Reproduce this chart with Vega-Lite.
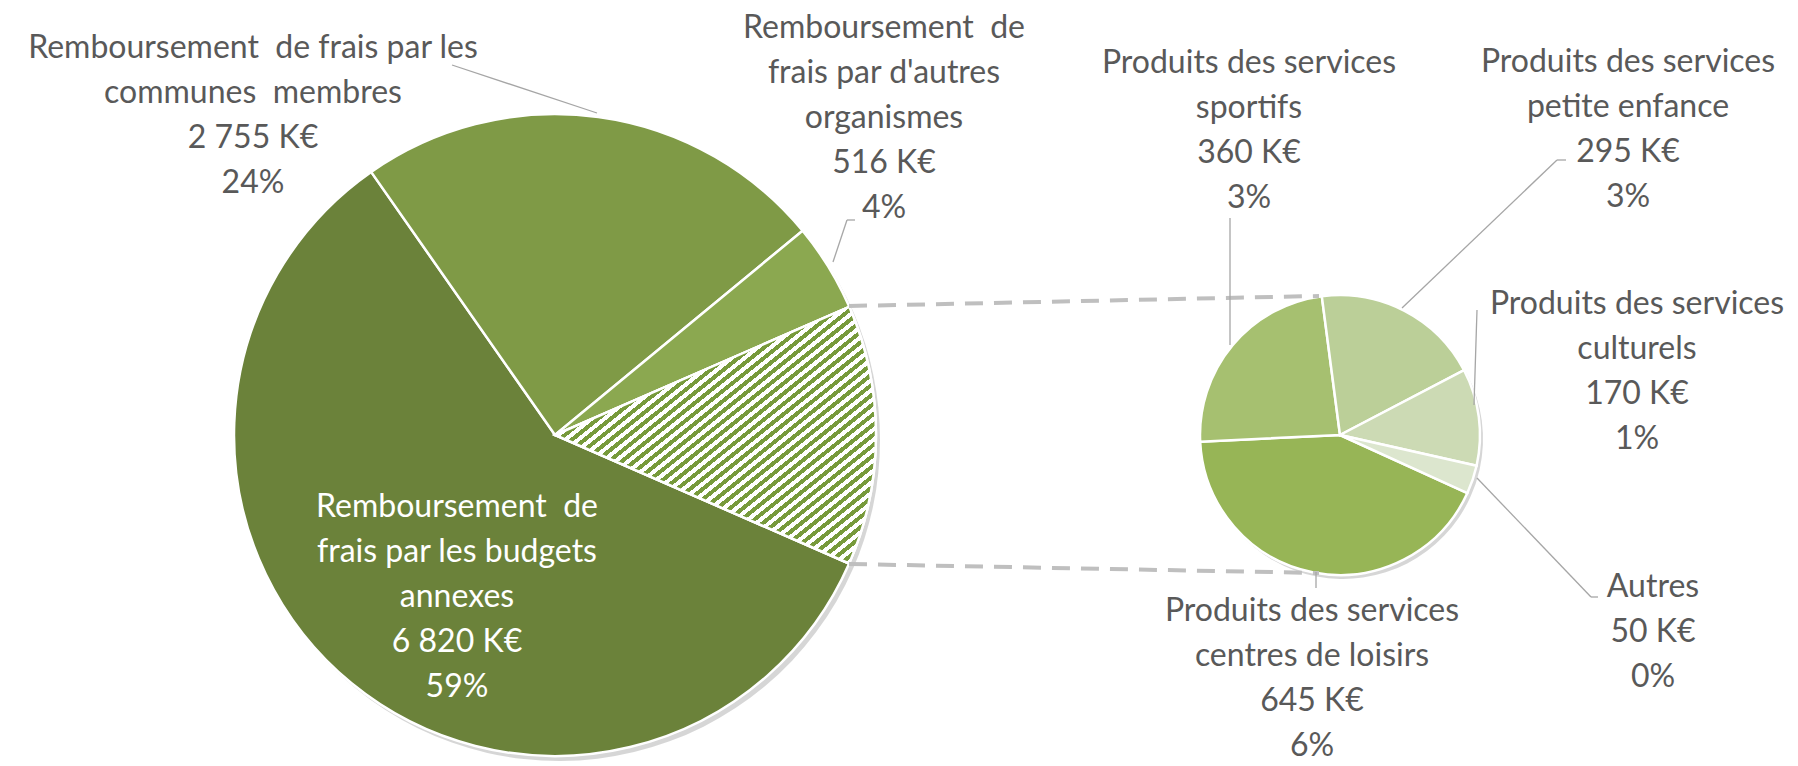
{
"$schema":"https://vega.github.io/schema/vega-lite/v6.json",
"width":1798,"height":766,"autosize":{"type":"none"},"padding":0,"background":"white",
"config":{"view":{"stroke":null},"text":{"font":"Lato","fontSize":32,"lineHeight":45,"align":"center","baseline":"middle","fill":"#595959","lineBreak":"\n"}},
"datasets":{"revenus":[
{"cat":"Remboursement de frais par les budgets annexes","libelle":"Remboursement\u00a0 de\nfrais par les budgets\nannexes","group":"principal","value":6820},
{"cat":"Remboursement de frais par les communes membres","libelle":"Remboursement\u00a0 de frais par les\ncommunes\u00a0 membres","group":"principal","value":2755},
{"cat":"Remboursement de frais par d'autres organismes","libelle":"Remboursement\u00a0 de\nfrais par d'autres\norganismes","group":"principal","value":516},
{"cat":"Produits des services centres de loisirs","libelle":"Produits des services\ncentres de loisirs","group":"detail","value":645},
{"cat":"Produits des services sportifs","libelle":"Produits des services\nsportifs","group":"detail","value":360},
{"cat":"Produits des services petite enfance","libelle":"Produits des services\npetite enfance","group":"detail","value":295},
{"cat":"Produits des services culturels","libelle":"Produits des services\nculturels","group":"detail","value":170},
{"cat":"Autres","libelle":"Autres","group":"detail","value":50}
]},
"data":{"name":"revenus"},
"transform":[
{"joinaggregate":[{"op":"sum","field":"value","as":"total"}]},
{"calculate":"datum.libelle + '\\n' + replace(format(datum.value, ','), ',', ' ') + ' K€\\n' + format(datum.value / datum.total, '.0%')","as":"etiquette"}
],
"layer":[
{"transform":[
 {"calculate":"datum.group === 'principal' ? datum.cat : 'Autres produits'","as":"tranche"},
 {"aggregate":[{"op":"sum","field":"value","as":"montant"}],"groupby":["tranche"]},
 {"calculate":"datum.tranche === 'Autres produits' ? 99999 : -datum.montant","as":"rang"}
],
"layer":[
 {"mark":{"type":"arc","outerRadius":321,"fill":"#000000","opacity":0.16,"xOffset":4,"yOffset":5},
  "encoding":{"x":{"datum":555,"type":"quantitative","scale":{"domain":[0,1798]},"axis":null},"y":{"datum":435,"type":"quantitative","scale":{"domain":[0,766],"reverse":true},"axis":null},
   "theta":{"field":"montant","type":"quantitative","stack":true,"scale":{"range":[1.9827,8.2659]}},"order":{"field":"rang","type":"quantitative"},"detail":{"field":"tranche"}}},
 {"mark":{"type":"arc","outerRadius":321,"stroke":"#ffffff","strokeWidth":2.5},
  "encoding":{"x":{"datum":555,"type":"quantitative","scale":{"domain":[0,1798]},"axis":null},"y":{"datum":435,"type":"quantitative","scale":{"domain":[0,766],"reverse":true},"axis":null},
   "theta":{"field":"montant","type":"quantitative","stack":true,"scale":{"range":[1.9827,8.2659]}},"order":{"field":"rang","type":"quantitative"},
   "color":{"field":"tranche","type":"nominal","legend":null,"scale":{"domain":["Remboursement de frais par les budgets annexes","Remboursement de frais par les communes membres","Remboursement de frais par d'autres organismes","Autres produits"],"range":["#6b823a","#7f9a46","#8ba850","#ffffff"]}}}},
 {"mark":{"type":"arc","outerRadius":321,"stroke":"#ffffff","strokeWidth":2.5,"fill":{"gradient":"linear","x1":0,"y1":0,"x2":1,"y2":1,"stops":[
{"offset":0,"color":"#779a3b"},
{"offset":0.01,"color":"#779a3b"},{"offset":0.01,"color":"#fff"},{"offset":0.02,"color":"#fff"},{"offset":0.02,"color":"#779a3b"},
{"offset":0.03,"color":"#779a3b"},{"offset":0.03,"color":"#fff"},{"offset":0.04,"color":"#fff"},{"offset":0.04,"color":"#779a3b"},
{"offset":0.05,"color":"#779a3b"},{"offset":0.05,"color":"#fff"},{"offset":0.06,"color":"#fff"},{"offset":0.06,"color":"#779a3b"},
{"offset":0.07,"color":"#779a3b"},{"offset":0.07,"color":"#fff"},{"offset":0.08,"color":"#fff"},{"offset":0.08,"color":"#779a3b"},
{"offset":0.09,"color":"#779a3b"},{"offset":0.09,"color":"#fff"},{"offset":0.1,"color":"#fff"},{"offset":0.1,"color":"#779a3b"},
{"offset":0.11,"color":"#779a3b"},{"offset":0.11,"color":"#fff"},{"offset":0.12,"color":"#fff"},{"offset":0.12,"color":"#779a3b"},
{"offset":0.13,"color":"#779a3b"},{"offset":0.13,"color":"#fff"},{"offset":0.14,"color":"#fff"},{"offset":0.14,"color":"#779a3b"},
{"offset":0.15,"color":"#779a3b"},{"offset":0.15,"color":"#fff"},{"offset":0.16,"color":"#fff"},{"offset":0.16,"color":"#779a3b"},
{"offset":0.17,"color":"#779a3b"},{"offset":0.17,"color":"#fff"},{"offset":0.18,"color":"#fff"},{"offset":0.18,"color":"#779a3b"},
{"offset":0.19,"color":"#779a3b"},{"offset":0.19,"color":"#fff"},{"offset":0.2,"color":"#fff"},{"offset":0.2,"color":"#779a3b"},
{"offset":0.21,"color":"#779a3b"},{"offset":0.21,"color":"#fff"},{"offset":0.22,"color":"#fff"},{"offset":0.22,"color":"#779a3b"},
{"offset":0.23,"color":"#779a3b"},{"offset":0.23,"color":"#fff"},{"offset":0.24,"color":"#fff"},{"offset":0.24,"color":"#779a3b"},
{"offset":0.25,"color":"#779a3b"},{"offset":0.25,"color":"#fff"},{"offset":0.26,"color":"#fff"},{"offset":0.26,"color":"#779a3b"},
{"offset":0.27,"color":"#779a3b"},{"offset":0.27,"color":"#fff"},{"offset":0.28,"color":"#fff"},{"offset":0.28,"color":"#779a3b"},
{"offset":0.29,"color":"#779a3b"},{"offset":0.29,"color":"#fff"},{"offset":0.3,"color":"#fff"},{"offset":0.3,"color":"#779a3b"},
{"offset":0.31,"color":"#779a3b"},{"offset":0.31,"color":"#fff"},{"offset":0.32,"color":"#fff"},{"offset":0.32,"color":"#779a3b"},
{"offset":0.33,"color":"#779a3b"},{"offset":0.33,"color":"#fff"},{"offset":0.34,"color":"#fff"},{"offset":0.34,"color":"#779a3b"},
{"offset":0.35,"color":"#779a3b"},{"offset":0.35,"color":"#fff"},{"offset":0.36,"color":"#fff"},{"offset":0.36,"color":"#779a3b"},
{"offset":0.37,"color":"#779a3b"},{"offset":0.37,"color":"#fff"},{"offset":0.38,"color":"#fff"},{"offset":0.38,"color":"#779a3b"},
{"offset":0.39,"color":"#779a3b"},{"offset":0.39,"color":"#fff"},{"offset":0.4,"color":"#fff"},{"offset":0.4,"color":"#779a3b"},
{"offset":0.41,"color":"#779a3b"},{"offset":0.41,"color":"#fff"},{"offset":0.42,"color":"#fff"},{"offset":0.42,"color":"#779a3b"},
{"offset":0.43,"color":"#779a3b"},{"offset":0.43,"color":"#fff"},{"offset":0.44,"color":"#fff"},{"offset":0.44,"color":"#779a3b"},
{"offset":0.45,"color":"#779a3b"},{"offset":0.45,"color":"#fff"},{"offset":0.46,"color":"#fff"},{"offset":0.46,"color":"#779a3b"},
{"offset":0.47,"color":"#779a3b"},{"offset":0.47,"color":"#fff"},{"offset":0.48,"color":"#fff"},{"offset":0.48,"color":"#779a3b"},
{"offset":0.49,"color":"#779a3b"},{"offset":0.49,"color":"#fff"},{"offset":0.5,"color":"#fff"},{"offset":0.5,"color":"#779a3b"},
{"offset":0.51,"color":"#779a3b"},{"offset":0.51,"color":"#fff"},{"offset":0.52,"color":"#fff"},{"offset":0.52,"color":"#779a3b"},
{"offset":0.53,"color":"#779a3b"},{"offset":0.53,"color":"#fff"},{"offset":0.54,"color":"#fff"},{"offset":0.54,"color":"#779a3b"},
{"offset":0.55,"color":"#779a3b"},{"offset":0.55,"color":"#fff"},{"offset":0.56,"color":"#fff"},{"offset":0.56,"color":"#779a3b"},
{"offset":0.57,"color":"#779a3b"},{"offset":0.57,"color":"#fff"},{"offset":0.58,"color":"#fff"},{"offset":0.58,"color":"#779a3b"},
{"offset":0.59,"color":"#779a3b"},{"offset":0.59,"color":"#fff"},{"offset":0.6,"color":"#fff"},{"offset":0.6,"color":"#779a3b"},
{"offset":0.61,"color":"#779a3b"},{"offset":0.61,"color":"#fff"},{"offset":0.62,"color":"#fff"},{"offset":0.62,"color":"#779a3b"},
{"offset":0.63,"color":"#779a3b"},{"offset":0.63,"color":"#fff"},{"offset":0.64,"color":"#fff"},{"offset":0.64,"color":"#779a3b"},
{"offset":0.65,"color":"#779a3b"},{"offset":0.65,"color":"#fff"},{"offset":0.66,"color":"#fff"},{"offset":0.66,"color":"#779a3b"},
{"offset":0.67,"color":"#779a3b"},{"offset":0.67,"color":"#fff"},{"offset":0.68,"color":"#fff"},{"offset":0.68,"color":"#779a3b"},
{"offset":0.69,"color":"#779a3b"},{"offset":0.69,"color":"#fff"},{"offset":0.7,"color":"#fff"},{"offset":0.7,"color":"#779a3b"},
{"offset":0.71,"color":"#779a3b"},{"offset":0.71,"color":"#fff"},{"offset":0.72,"color":"#fff"},{"offset":0.72,"color":"#779a3b"},
{"offset":0.73,"color":"#779a3b"},{"offset":0.73,"color":"#fff"},{"offset":0.74,"color":"#fff"},{"offset":0.74,"color":"#779a3b"},
{"offset":0.75,"color":"#779a3b"},{"offset":0.75,"color":"#fff"},{"offset":0.76,"color":"#fff"},{"offset":0.76,"color":"#779a3b"},
{"offset":0.77,"color":"#779a3b"},{"offset":0.77,"color":"#fff"},{"offset":0.78,"color":"#fff"},{"offset":0.78,"color":"#779a3b"},
{"offset":0.79,"color":"#779a3b"},{"offset":0.79,"color":"#fff"},{"offset":0.8,"color":"#fff"},{"offset":0.8,"color":"#779a3b"},
{"offset":0.81,"color":"#779a3b"},{"offset":0.81,"color":"#fff"},{"offset":0.82,"color":"#fff"},{"offset":0.82,"color":"#779a3b"},
{"offset":0.83,"color":"#779a3b"},{"offset":0.83,"color":"#fff"},{"offset":0.84,"color":"#fff"},{"offset":0.84,"color":"#779a3b"},
{"offset":0.85,"color":"#779a3b"},{"offset":0.85,"color":"#fff"},{"offset":0.86,"color":"#fff"},{"offset":0.86,"color":"#779a3b"},
{"offset":0.87,"color":"#779a3b"},{"offset":0.87,"color":"#fff"},{"offset":0.88,"color":"#fff"},{"offset":0.88,"color":"#779a3b"},
{"offset":0.89,"color":"#779a3b"},{"offset":0.89,"color":"#fff"},{"offset":0.9,"color":"#fff"},{"offset":0.9,"color":"#779a3b"},
{"offset":0.91,"color":"#779a3b"},{"offset":0.91,"color":"#fff"},{"offset":0.92,"color":"#fff"},{"offset":0.92,"color":"#779a3b"},
{"offset":0.93,"color":"#779a3b"},{"offset":0.93,"color":"#fff"},{"offset":0.94,"color":"#fff"},{"offset":0.94,"color":"#779a3b"},
{"offset":0.95,"color":"#779a3b"},{"offset":0.95,"color":"#fff"},{"offset":0.96,"color":"#fff"},{"offset":0.96,"color":"#779a3b"},
{"offset":0.97,"color":"#779a3b"},{"offset":0.97,"color":"#fff"},{"offset":0.98,"color":"#fff"},{"offset":0.98,"color":"#779a3b"},
{"offset":0.99,"color":"#779a3b"},{"offset":0.99,"color":"#fff"},{"offset":1,"color":"#fff"}
]}},
  "encoding":{"x":{"datum":555,"type":"quantitative","scale":{"domain":[0,1798]},"axis":null},"y":{"datum":435,"type":"quantitative","scale":{"domain":[0,766],"reverse":true},"axis":null},
   "theta":{"field":"montant","type":"quantitative","stack":true,"scale":{"range":[1.9827,8.2659]}},"order":{"field":"rang","type":"quantitative"},"detail":{"field":"tranche"},
   "opacity":{"condition":{"test":"datum.tranche === 'Autres produits'","value":1},"value":0}}}
]},
{"transform":[{"filter":"datum.group === 'detail'"}],
"layer":[
 {"mark":{"type":"arc","outerRadius":140,"fill":"#000000","opacity":0.16,"xOffset":3,"yOffset":4},
  "encoding":{"x":{"datum":1340,"type":"quantitative","scale":{"domain":[0,1798]},"axis":null},"y":{"datum":435,"type":"quantitative","scale":{"domain":[0,766],"reverse":true},"axis":null},
   "theta":{"field":"value","type":"quantitative","stack":true,"scale":{"range":[1.9984,8.2816]}},"order":{"field":"value","type":"quantitative","sort":"descending"},"detail":{"field":"cat"}}},
 {"mark":{"type":"arc","outerRadius":140,"stroke":"#ffffff","strokeWidth":2.5},
  "encoding":{"x":{"datum":1340,"type":"quantitative","scale":{"domain":[0,1798]},"axis":null},"y":{"datum":435,"type":"quantitative","scale":{"domain":[0,766],"reverse":true},"axis":null},
   "theta":{"field":"value","type":"quantitative","stack":true,"scale":{"range":[1.9984,8.2816]}},"order":{"field":"value","type":"quantitative","sort":"descending"},
   "color":{"field":"cat","type":"nominal","legend":null,"scale":{"domain":["Produits des services centres de loisirs","Produits des services sportifs","Produits des services petite enfance","Produits des services culturels","Autres"],"range":["#97b556","#a6c070","#bbcf98","#ccdab4","#dce6ce"]}}}}
]},
{"data":{"values":[{}]},"mark":{"type":"rule","color":"#bfbfbf","strokeWidth":4,"strokeDash":[18,11]},
 "encoding":{"x":{"datum":849,"type":"quantitative","scale":{"domain":[0,1798]},"axis":null},"y":{"datum":306,"type":"quantitative","scale":{"domain":[0,766],"reverse":true},"axis":null},"x2":{"datum":1319},"y2":{"datum":296}}},
{"data":{"values":[{}]},"mark":{"type":"rule","color":"#bfbfbf","strokeWidth":4,"strokeDash":[18,11]},
 "encoding":{"x":{"datum":849,"type":"quantitative","scale":{"domain":[0,1798]},"axis":null},"y":{"datum":564,"type":"quantitative","scale":{"domain":[0,766],"reverse":true},"axis":null},"x2":{"datum":1319},"y2":{"datum":573}}},
{"data":{"values":[{}]},"mark":{"type":"rule","color":"#a6a6a6","strokeWidth":1.3},
 "encoding":{"x":{"datum":452,"type":"quantitative","scale":{"domain":[0,1798]},"axis":null},"y":{"datum":65,"type":"quantitative","scale":{"domain":[0,766],"reverse":true},"axis":null},"x2":{"datum":597},"y2":{"datum":113}}},
{"data":{"values":[{}]},"mark":{"type":"rule","color":"#a6a6a6","strokeWidth":1.3},
 "encoding":{"x":{"datum":855,"type":"quantitative","scale":{"domain":[0,1798]},"axis":null},"y":{"datum":220,"type":"quantitative","scale":{"domain":[0,766],"reverse":true},"axis":null},"x2":{"datum":847},"y2":{"datum":220}}},
{"data":{"values":[{}]},"mark":{"type":"rule","color":"#a6a6a6","strokeWidth":1.3},
 "encoding":{"x":{"datum":847,"type":"quantitative","scale":{"domain":[0,1798]},"axis":null},"y":{"datum":220,"type":"quantitative","scale":{"domain":[0,766],"reverse":true},"axis":null},"x2":{"datum":833},"y2":{"datum":262}}},
{"data":{"values":[{}]},"mark":{"type":"rule","color":"#a6a6a6","strokeWidth":1.3},
 "encoding":{"x":{"datum":1230,"type":"quantitative","scale":{"domain":[0,1798]},"axis":null},"y":{"datum":218,"type":"quantitative","scale":{"domain":[0,766],"reverse":true},"axis":null},"x2":{"datum":1230},"y2":{"datum":345}}},
{"data":{"values":[{}]},"mark":{"type":"rule","color":"#a6a6a6","strokeWidth":1.3},
 "encoding":{"x":{"datum":1566,"type":"quantitative","scale":{"domain":[0,1798]},"axis":null},"y":{"datum":160,"type":"quantitative","scale":{"domain":[0,766],"reverse":true},"axis":null},"x2":{"datum":1557},"y2":{"datum":160}}},
{"data":{"values":[{}]},"mark":{"type":"rule","color":"#a6a6a6","strokeWidth":1.3},
 "encoding":{"x":{"datum":1557,"type":"quantitative","scale":{"domain":[0,1798]},"axis":null},"y":{"datum":160,"type":"quantitative","scale":{"domain":[0,766],"reverse":true},"axis":null},"x2":{"datum":1402},"y2":{"datum":308}}},
{"data":{"values":[{}]},"mark":{"type":"rule","color":"#a6a6a6","strokeWidth":1.3},
 "encoding":{"x":{"datum":1477,"type":"quantitative","scale":{"domain":[0,1798]},"axis":null},"y":{"datum":310,"type":"quantitative","scale":{"domain":[0,766],"reverse":true},"axis":null},"x2":{"datum":1474},"y2":{"datum":405}}},
{"data":{"values":[{}]},"mark":{"type":"rule","color":"#a6a6a6","strokeWidth":1.3},
 "encoding":{"x":{"datum":1598,"type":"quantitative","scale":{"domain":[0,1798]},"axis":null},"y":{"datum":597,"type":"quantitative","scale":{"domain":[0,766],"reverse":true},"axis":null},"x2":{"datum":1591},"y2":{"datum":597}}},
{"data":{"values":[{}]},"mark":{"type":"rule","color":"#a6a6a6","strokeWidth":1.3},
 "encoding":{"x":{"datum":1591,"type":"quantitative","scale":{"domain":[0,1798]},"axis":null},"y":{"datum":597,"type":"quantitative","scale":{"domain":[0,766],"reverse":true},"axis":null},"x2":{"datum":1477},"y2":{"datum":478}}},
{"data":{"values":[{}]},"mark":{"type":"rule","color":"#a6a6a6","strokeWidth":1.3},
 "encoding":{"x":{"datum":1316,"type":"quantitative","scale":{"domain":[0,1798]},"axis":null},"y":{"datum":572,"type":"quantitative","scale":{"domain":[0,766],"reverse":true},"axis":null},"x2":{"datum":1316},"y2":{"datum":588}}},
{"transform":[{"filter":"datum.cat === 'Remboursement de frais par les communes membres'"}],"mark":{"type":"text"},
 "encoding":{"x":{"datum":253,"type":"quantitative","scale":{"domain":[0,1798]},"axis":null},"y":{"datum":48,"type":"quantitative","scale":{"domain":[0,766],"reverse":true},"axis":null},"text":{"field":"etiquette"}}},
{"transform":[{"filter":"datum.cat === \"Remboursement de frais par d'autres organismes\""}],"mark":{"type":"text"},
 "encoding":{"x":{"datum":884,"type":"quantitative","scale":{"domain":[0,1798]},"axis":null},"y":{"datum":28,"type":"quantitative","scale":{"domain":[0,766],"reverse":true},"axis":null},"text":{"field":"etiquette"}}},
{"transform":[{"filter":"datum.cat === 'Remboursement de frais par les budgets annexes'"}],"mark":{"type":"text","fill":"#ffffff"},
 "encoding":{"x":{"datum":457,"type":"quantitative","scale":{"domain":[0,1798]},"axis":null},"y":{"datum":507,"type":"quantitative","scale":{"domain":[0,766],"reverse":true},"axis":null},"text":{"field":"etiquette"}}},
{"transform":[{"filter":"datum.cat === 'Produits des services sportifs'"}],"mark":{"type":"text"},
 "encoding":{"x":{"datum":1249,"type":"quantitative","scale":{"domain":[0,1798]},"axis":null},"y":{"datum":63,"type":"quantitative","scale":{"domain":[0,766],"reverse":true},"axis":null},"text":{"field":"etiquette"}}},
{"transform":[{"filter":"datum.cat === 'Produits des services petite enfance'"}],"mark":{"type":"text"},
 "encoding":{"x":{"datum":1628,"type":"quantitative","scale":{"domain":[0,1798]},"axis":null},"y":{"datum":62,"type":"quantitative","scale":{"domain":[0,766],"reverse":true},"axis":null},"text":{"field":"etiquette"}}},
{"transform":[{"filter":"datum.cat === 'Produits des services culturels'"}],"mark":{"type":"text"},
 "encoding":{"x":{"datum":1637,"type":"quantitative","scale":{"domain":[0,1798]},"axis":null},"y":{"datum":304,"type":"quantitative","scale":{"domain":[0,766],"reverse":true},"axis":null},"text":{"field":"etiquette"}}},
{"transform":[{"filter":"datum.cat === 'Autres'"}],"mark":{"type":"text"},
 "encoding":{"x":{"datum":1653,"type":"quantitative","scale":{"domain":[0,1798]},"axis":null},"y":{"datum":587,"type":"quantitative","scale":{"domain":[0,766],"reverse":true},"axis":null},"text":{"field":"etiquette"}}},
{"transform":[{"filter":"datum.cat === 'Produits des services centres de loisirs'"}],"mark":{"type":"text"},
 "encoding":{"x":{"datum":1312,"type":"quantitative","scale":{"domain":[0,1798]},"axis":null},"y":{"datum":611,"type":"quantitative","scale":{"domain":[0,766],"reverse":true},"axis":null},"text":{"field":"etiquette"}}}
],
"resolve":{"scale":{"theta":"independent","color":"independent","opacity":"independent"}}
}
